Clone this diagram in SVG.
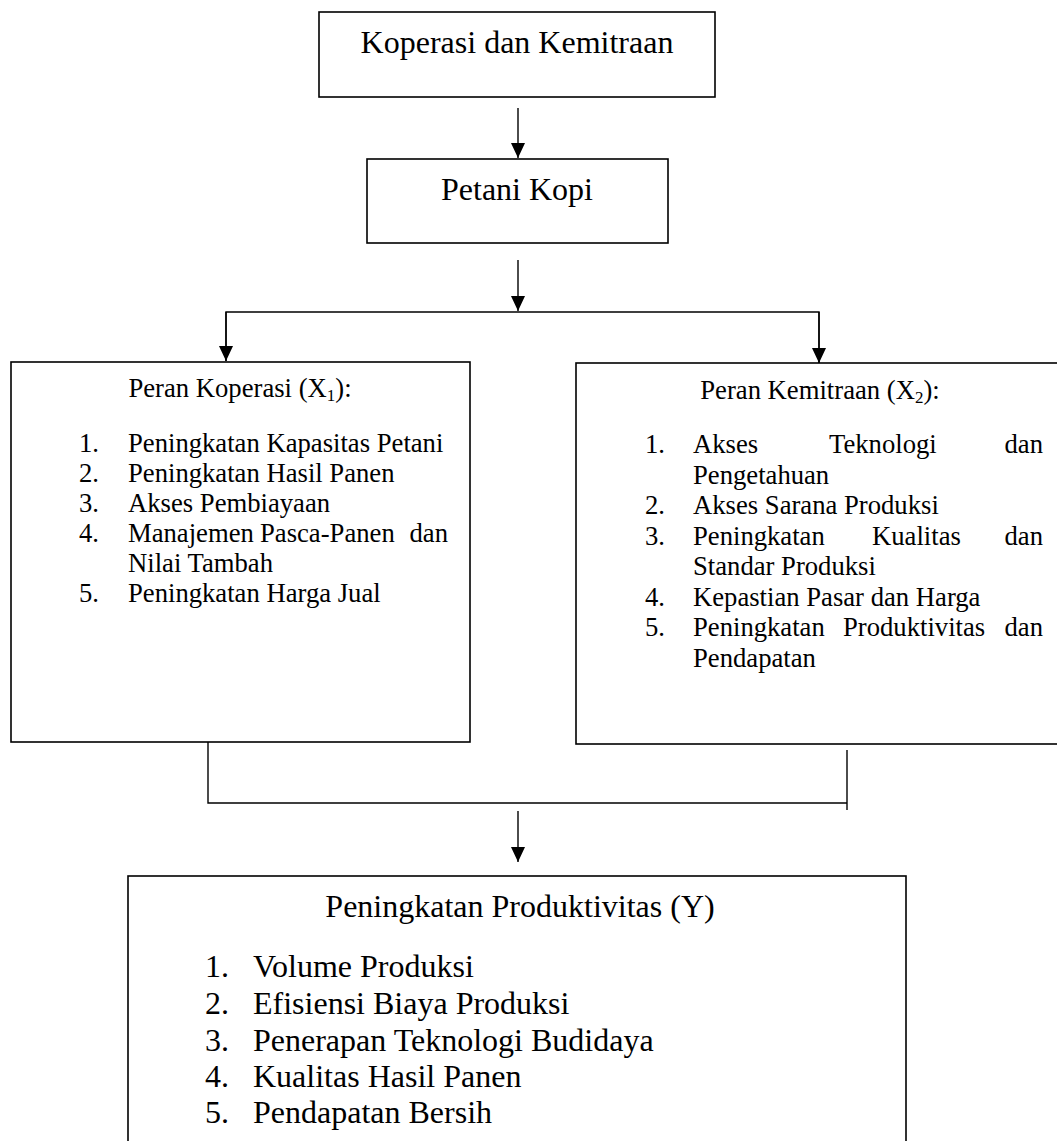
<svg xmlns="http://www.w3.org/2000/svg" width="1057" height="1141" viewBox="0 0 1057 1141">
<style>
.box{fill:#fff;stroke:#000;stroke-width:1.6}
.ln{fill:none;stroke:#000;stroke-width:1.4}
text{font-family:"Liberation Serif","Times New Roman",serif;fill:#000}
.big{font-size:32px}
.mid{font-size:26.67px}
.sub{font-size:17px}
</style>
<defs>
<marker id="ah" markerUnits="userSpaceOnUse" markerWidth="16" markerHeight="14" refX="15" refY="7" orient="auto">
<path d="M0,0 L15,7 L0,14 z" fill="#000"/>
</marker>
</defs>
<rect width="1057" height="1141" fill="#fff"/>
<g id="connectors">
<line class="ln" x1="518" y1="108" x2="518" y2="158" marker-end="url(#ah)"/>
<line class="ln" x1="518" y1="260" x2="518" y2="311" marker-end="url(#ah)"/>
<polyline class="ln" points="226,361 226,312 819,312 819,363"/>
<line class="ln" x1="226" y1="312" x2="226" y2="361" marker-end="url(#ah)"/>
<line class="ln" x1="819" y1="312" x2="819" y2="363" marker-end="url(#ah)"/>
<polyline class="ln" points="208,742 208,803 847,803"/>
<line class="ln" x1="847" y1="750" x2="847" y2="810"/>
<line class="ln" x1="518" y1="811" x2="518" y2="862" marker-end="url(#ah)"/>
</g>
<g id="node-koperasi-kemitraan">
<rect class="box" x="319" y="12" width="396" height="85"/>
<text class="big" x="517" y="53" text-anchor="middle">Koperasi dan Kemitraan</text>
</g>
<g id="node-petani-kopi">
<rect class="box" x="367" y="159" width="301" height="84"/>
<text class="big" x="517" y="200" text-anchor="middle">Petani Kopi</text>
</g>
<g id="node-peran-koperasi">
<rect class="box" x="11" y="362" width="459" height="380"/>
<text class="mid" x="240" y="397" text-anchor="middle">Peran Koperasi (X<tspan class="sub" dy="4">1</tspan><tspan dy="-4">):</tspan></text>
<g class="mid">
<text class="mid" x="79" y="452">1.</text><text class="mid" x="128" y="452">Peningkatan Kapasitas Petani</text>
<text class="mid" x="79" y="482">2.</text><text class="mid" x="128" y="482">Peningkatan Hasil Panen</text>
<text class="mid" x="79" y="512">3.</text><text class="mid" x="128" y="512">Akses Pembiayaan</text>
<text class="mid" x="79" y="542">4.</text><text class="mid" x="128" y="542">Manajemen</text><text class="mid" x="260" y="542">Pasca-Panen</text><text class="mid" x="448" y="542" text-anchor="end">dan</text>
<text class="mid" x="128" y="572">Nilai Tambah</text>
<text class="mid" x="79" y="602">5.</text><text class="mid" x="128" y="602">Peningkatan Harga Jual</text>
</g>
</g>
<g id="node-peran-kemitraan">
<rect class="box" x="576" y="363" width="494" height="381"/>
<text class="mid" x="820" y="399" text-anchor="middle">Peran Kemitraan (X<tspan class="sub" dy="4">2</tspan><tspan dy="-4">):</tspan></text>
<text class="mid" x="645" y="453">1.</text><text class="mid" x="693" y="453">Akses</text><text class="mid" x="829" y="453">Teknologi</text><text class="mid" x="1043" y="453" text-anchor="end">dan</text>
<text class="mid" x="693" y="484">Pengetahuan</text>
<text class="mid" x="645" y="514">2.</text><text class="mid" x="693" y="514">Akses Sarana Produksi</text>
<text class="mid" x="645" y="545">3.</text><text class="mid" x="693" y="545">Peningkatan</text><text class="mid" x="872" y="545">Kualitas</text><text class="mid" x="1043" y="545" text-anchor="end">dan</text>
<text class="mid" x="693" y="575">Standar Produksi</text>
<text class="mid" x="645" y="606">4.</text><text class="mid" x="693" y="606">Kepastian Pasar dan Harga</text>
<text class="mid" x="645" y="636">5.</text><text class="mid" x="693" y="636">Peningkatan</text><text class="mid" x="843" y="636">Produktivitas</text><text class="mid" x="1043" y="636" text-anchor="end">dan</text>
<text class="mid" x="693" y="667">Pendapatan</text>
</g>
<g id="node-peningkatan-produktivitas">
<rect class="box" x="128" y="876" width="778" height="280"/>
<text class="big" x="520" y="917" text-anchor="middle">Peningkatan Produktivitas (Y)</text>
<text class="big" x="205" y="977">1.</text><text class="big" x="253" y="977">Volume Produksi</text>
<text class="big" x="205" y="1014">2.</text><text class="big" x="253" y="1014">Efisiensi Biaya Produksi</text>
<text class="big" x="205" y="1051">3.</text><text class="big" x="253" y="1051">Penerapan Teknologi Budidaya</text>
<text class="big" x="205" y="1087">4.</text><text class="big" x="253" y="1087">Kualitas Hasil Panen</text>
<text class="big" x="205" y="1123">5.</text><text class="big" x="253" y="1123">Pendapatan Bersih</text>
</g>
</svg>
